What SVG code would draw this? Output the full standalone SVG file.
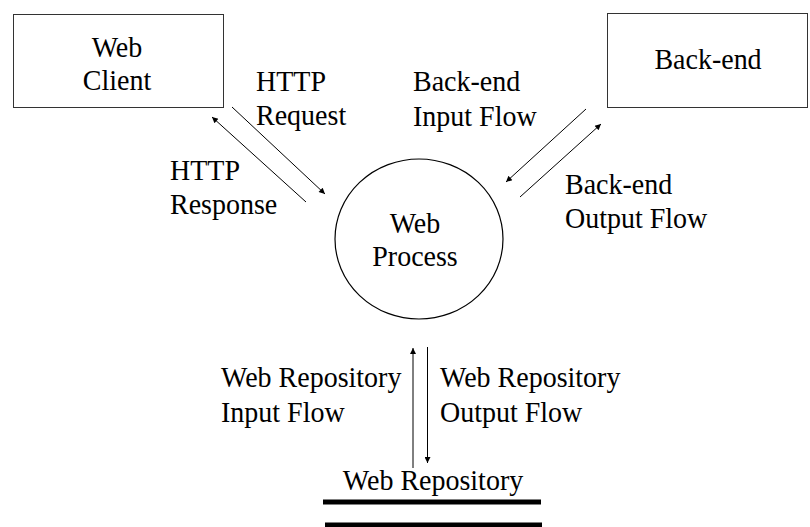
<svg xmlns="http://www.w3.org/2000/svg" width="810" height="527" viewBox="0 0 810 527">
  <defs>
    <marker id="arrow" viewBox="0 0 10 10" refX="10" refY="5" markerWidth="8" markerHeight="6" markerUnits="userSpaceOnUse" orient="auto">
      <path d="M0,0 L10,5 L0,10 Z" fill="#000"/>
    </marker>
    <style>
      .box { fill: #fff; stroke: #333; stroke-width: 1; }
      .proc { fill: #fff; stroke: #000; stroke-width: 1.2; }
      .lbl { font-family: "Liberation Serif", "Times New Roman", serif; font-size: 28px; fill: #000; }
      .mid { text-anchor: middle; }
      .flow { stroke: #000; stroke-width: 1; fill: none; marker-end: url(#arrow); }
      .store { stroke: #000; stroke-width: 5; }
    </style>
  </defs>

  <rect width="810" height="527" fill="#fff"/>

  <!-- external entity: web client -->
  <g id="web-client">
    <rect class="box" x="13.5" y="14.5" width="210" height="93"/>
    <text class="lbl mid" transform="translate(117 57) scale(1 1.08)">Web</text>
    <text class="lbl mid" transform="translate(117 90) scale(1 1.08)">Client</text>
  </g>

  <!-- external entity: back-end -->
  <g id="back-end">
    <rect class="box" x="607.5" y="13.5" width="200" height="94"/>
    <text class="lbl mid" transform="translate(708 69) scale(1 1.08)">Back-end</text>
  </g>

  <!-- process -->
  <g id="web-process">
    <ellipse class="proc" cx="419" cy="239" rx="84" ry="80"/>
    <text class="lbl mid" transform="translate(415 233) scale(1 1.08)">Web</text>
    <text class="lbl mid" transform="translate(415 266) scale(1 1.08)">Process</text>
  </g>

  <!-- data store -->
  <g id="web-repository">
    <text class="lbl mid" transform="translate(433 490) scale(1 1.08)">Web Repository</text>
    <line class="store" x1="323" y1="502" x2="541" y2="502"/>
    <line class="store" x1="325" y1="525" x2="542" y2="525"/>
  </g>

  <!-- data flows -->
  <g id="connectors">
    <line class="flow" x1="232" y1="107" x2="325" y2="194"/>
    <line class="flow" x1="306" y1="202" x2="212" y2="117"/>
    <line class="flow" x1="586" y1="109" x2="506" y2="182"/>
    <line class="flow" x1="520" y1="197" x2="601" y2="124"/>
    <line class="flow" x1="413" y1="468" x2="413" y2="348"/>
    <line class="flow" x1="427.5" y1="347" x2="427.5" y2="463"/>
  </g>

  <!-- flow labels -->
  <g id="flow-labels">
    <text class="lbl" transform="translate(256 91) scale(1 1.08)">HTTP</text>
    <text class="lbl" transform="translate(256 125) scale(1 1.08)">Request</text>
    <text class="lbl" transform="translate(170 180) scale(1 1.08)">HTTP</text>
    <text class="lbl" transform="translate(170 214) scale(1 1.08)">Response</text>
    <text class="lbl" transform="translate(413 91) scale(1 1.08)">Back-end</text>
    <text class="lbl" transform="translate(413 126) scale(1 1.08)">Input Flow</text>
    <text class="lbl" transform="translate(565 194) scale(1 1.08)">Back-end</text>
    <text class="lbl" transform="translate(565 228) scale(1 1.08)">Output Flow</text>
    <text class="lbl" transform="translate(221 387) scale(1 1.08)">Web Repository</text>
    <text class="lbl" transform="translate(221 422) scale(1 1.08)">Input Flow</text>
    <text class="lbl" transform="translate(440 387) scale(1 1.08)">Web Repository</text>
    <text class="lbl" transform="translate(440 422) scale(1 1.08)">Output Flow</text>
  </g>
</svg>
